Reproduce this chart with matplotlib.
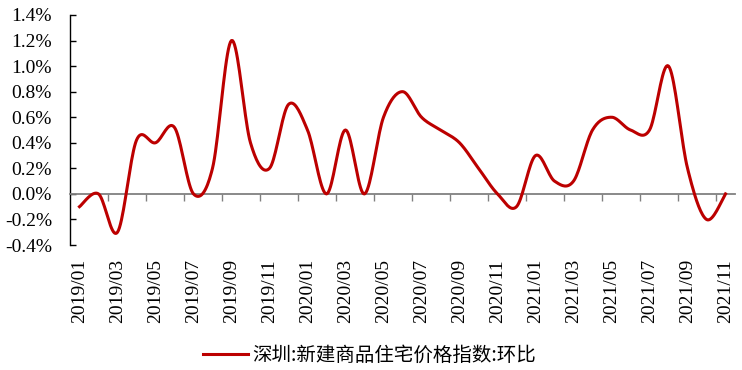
import numpy as np
import matplotlib
matplotlib.use('Agg')
import matplotlib.pyplot as plt

# monthly data, Shenzhen new home price index, m/m change (%)
months = ['2019/01', '2019/02', '2019/03', '2019/04', '2019/05', '2019/06',
          '2019/07', '2019/08', '2019/09', '2019/10', '2019/11', '2019/12',
          '2020/01', '2020/02', '2020/03', '2020/04', '2020/05', '2020/06',
          '2020/07', '2020/08', '2020/09', '2020/10', '2020/11', '2020/12',
          '2021/01', '2021/02', '2021/03', '2021/04', '2021/05', '2021/06',
          '2021/07', '2021/08', '2021/09', '2021/10', '2021/11']
mom = [-0.1, 0.0, -0.3, 0.42, 0.4, 0.52, 0.0, 0.2, 1.2, 0.4, 0.2, 0.7,
       0.5, 0.0, 0.5, 0.0, 0.6, 0.8, 0.6, 0.5, 0.4, 0.2, 0.0, -0.1,
       0.3, 0.1, 0.1, 0.5, 0.6, 0.5, 0.5, 1.0, 0.2, -0.2, 0.0]
yticks = [-0.4, -0.2, 0.0, 0.2, 0.4, 0.6, 0.8, 1.0, 1.2, 1.4]
ytick_labels = ['-0.4%', '-0.2%', '0.0%', '0.2%', '0.4%', '0.6%', '0.8%',
                '1.0%', '1.2%', '1.4%']
series_name = '深圳:新建商品住宅价格指数:环比'


def smooth(xs, ys, n=20):
    # Excel-like smoothed line (Catmull-Rom bezier through the points)
    p = np.column_stack([xs, ys]).astype(float)
    p = np.vstack([p[0], p, p[-1]])
    out = []
    t = np.linspace(0, 1, n)[:, None]
    for i in range(1, len(p) - 2):
        p0, p1, p2, p3 = p[i - 1], p[i], p[i + 1], p[i + 2]
        c1 = p1 + (p2 - p0) / 6.0
        c2 = p2 - (p3 - p1) / 6.0
        seg = ((1 - t) ** 3) * p1 + 3 * ((1 - t) ** 2) * t * c1 \
            + 3 * (1 - t) * t ** 2 * c2 + t ** 3 * p2
        out.append(seg if i == 1 else seg[1:])
    out = np.vstack(out)
    return out[:, 0], out[:, 1]


x = np.arange(len(months))
sx, sy = smooth(x, mom)

fig = plt.figure(figsize=(7.42, 3.70), dpi=100)
ax = fig.add_axes([0.0943, 0.3378, 0.8963, 0.6217])

ax.plot(sx, sy, color='#BC0000', lw=2.2, label=series_name, zorder=5)

ax.set_xlim(-0.5, len(months) - 0.5)
ax.set_ylim(-0.4, 1.4)

# y axis
ax.set_yticks(yticks)
ax.set_yticklabels(ytick_labels, family='Liberation Serif', fontsize=14)
ax.tick_params(axis='y', direction='in', length=4, width=1, pad=13, colors='black')
ax.spines['left'].set_color('black')
ax.spines['left'].set_linewidth(1)
ax.spines['top'].set_visible(False)
ax.spines['right'].set_visible(False)

# zero line with category boundary ticks
ax.spines['bottom'].set_position(('data', 0))
ax.spines['bottom'].set_color('#808080')
ax.spines['bottom'].set_linewidth(1.3)
ax.set_xticks(np.arange(1.5, len(months) - 1, 2))
ax.set_xticklabels([])
ax.tick_params(axis='x', direction='out', length=5, width=1, color='#808080')

# category labels at the bottom of the plot area
sec = ax.secondary_xaxis('bottom')
sec.set_xticks(x[::2])
sec.set_xticklabels(months[::2], rotation=90, family='Liberation Serif', fontsize=14)
sec.tick_params(length=0, pad=10)
sec.spines['bottom'].set_visible(False)

leg = fig.legend(loc='center', bbox_to_anchor=(0.498, 0.04), frameon=False,
                 handlelength=2.3, handletextpad=0.2,
                 prop={'family': ['Noto Sans CJK SC', 'DejaVu Sans'], 'size': 14})

plt.savefig('out.png', dpi=100)
